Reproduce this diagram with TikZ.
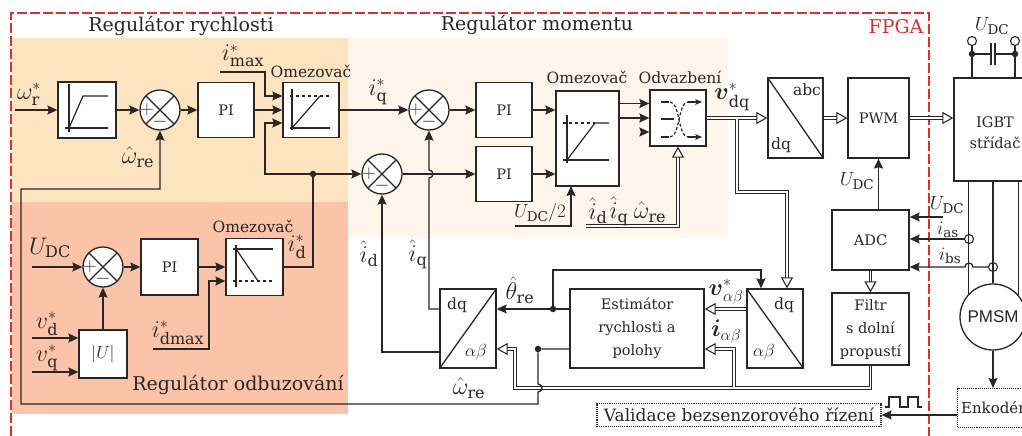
\documentclass[tikz,border=0pt]{standalone}
\usepackage{fix-cm}
\usepackage{amsmath}
\usepackage{fontspec}
\setmainfont{DejaVu Serif}
\newfontfamily\pmsmfont{Liberation Sans}
\DeclareMathSizes{24}{24}{16}{12}
\DeclareMathSizes{19}{19}{13.5}{10}
\DeclareMathSizes{17.5}{17.5}{13}{10}
\usetikzlibrary{arrows.meta,calc}
\definecolor{ink}{HTML}{2A2627}
\definecolor{fpgared}{HTML}{D8322A}
\definecolor{speedbg}{HTML}{FDE3C0}
\definecolor{torquebg}{HTML}{FEF6EA}
\definecolor{fluxbg}{HTML}{FBC4A9}
\tikzset{
    block/.style 2 args={rectangle, draw, fill=white, line width=1.3pt, inner sep=0pt, minimum width=#1pt, minimum height=#2pt, align=center, font=\fontsize{14.5}{23}\selectfont},
    sumnode/.style={circle, draw, fill=white, line width=1.3pt, inner sep=0pt, minimum size=40pt, path picture={\draw[line width=1.3pt] (path picture bounding box.north west) -- (path picture bounding box.south east) (path picture bounding box.north east) -- (path picture bounding box.south west);}},
    sign/.style={inner sep=0pt, font=\fontsize{19}{20}\selectfont},
    dotnode/.style={circle, fill=ink, inner sep=0pt, minimum size=6.5pt},
    ring/.style={circle, draw, line width=1.1pt, inner sep=0pt, minimum size=9pt},
    title/.style={inner sep=0pt, font=\fontsize{19}{24}\selectfont},
    smalltext/.style={inner sep=0pt, font=\fontsize{15.5}{20}\selectfont},
    mlabel/.style={inner sep=0pt, font=\fontsize{24}{26}\selectfont},
    slabel/.style={inner sep=0pt, font=\fontsize{19}{22}\selectfont},
    alabel/.style={inner sep=0pt, font=\fontsize{17.5}{20}\selectfont},
    dotbox/.style={rectangle, draw, densely dotted, line width=1.1pt, fill=white, font=\fontsize{15}{20}\selectfont},
    conn/.style={line width=1.3pt},
    arr/.style={line width=1.3pt, -{Stealth[length=10pt,width=9pt,inset=1.5pt]}},
    dbl/.style={line width=0.9pt, double, double distance=1.6pt},
    dblarr/.style={dbl, -{Triangle[open,fill=white,length=11pt,width=12pt,line width=1.1pt]}},
    icon/.style={line width=1.2pt},
    iconarr/.style={line width=1.2pt, -{Stealth[length=7pt,width=6pt]}},
}
\begin{document}
\begin{tikzpicture}[x=1pt,y=-1pt,color=ink]
    \useasboundingbox (0,0) rectangle (1022,436);
    \fill[speedbg] (12,38) rectangle (348,202);
    \fill[torquebg] (348,38) rectangle (728,238);
    \fill[fluxbg] (12,202) rectangle (348,414);
    \draw[fpgared, line width=1.6pt, dash pattern=on 10pt off 3pt] (11,436) -- (11,13) -- (929,13) -- (929,436);

    \node(titlespeed)[title] at (181,26) {Regulátor rychlosti};
    \node(titletorque)[title] at (537,25) {Regulátor momentu};
    \node(titleflux)[title] at (238,385) {Regulátor odbuzování};
    \node(titlefpga)[title, text=fpgared] at (896,27) {FPGA};

    \node(ramp)[block={58}{56}] at (87,110) {};
    \node(sum1)[sumnode] at (160,110) {};
    \node(sum1p)[sign, xshift=-13pt] at (sum1) {$+$};
    \node(sum1m)[sign, yshift=-12pt] at (sum1) {$-$};
    \node(pi1)[block={56}{55}] at (226,110) {PI};
    \node(lim1)[block={56}{55}] at (311,110) {};
    \node(sum2)[sumnode] at (429,110) {};
    \node(sum2p)[sign, xshift=-13pt] at (sum2) {$+$};
    \node(sum2m)[sign, yshift=-12pt] at (sum2) {$-$};
    \node(sum3)[sumnode] at (382,174) {};
    \node(sum3p)[sign, xshift=-13pt] at (sum3) {$+$};
    \node(sum3m)[sign, yshift=-12pt] at (sum3) {$-$};
    \node(pi2)[block={56}{55}] at (504,110) {PI};
    \node(pi3)[block={56}{55}] at (504,174) {PI};
    \node(lim2)[block={63}{95}] at (587.5,138.5) {};
    \node(dec)[block={56}{56}] at (678,118) {};
    \node(dqabc)[block={55}{80}] at (795.5,118) {};
    \node(pwm)[block={61}{80}] at (878.5,118) {PWM};
    \node(igbt)[block={82}{103}] at (995,129.5) {};
    \node(igbttext)[inner sep=0pt, align=center, font=\fontsize{14.5}{21}\selectfont] at (995,133) {IGBT\\střídač};

    \node(sum4)[sumnode] at (103,267) {};
    \node(sum4p)[sign, xshift=-13pt] at (sum4) {$+$};
    \node(sum4m)[sign, yshift=-12pt] at (sum4) {$-$};
    \node(pi4)[block={57}{56}] at (169.5,267) {PI};
    \node(lim3)[block={57}{57}] at (254.5,267) {};
    \node(absu)[block={48}{48}, font=\fontsize{17.5}{20}\selectfont] at (103,354) {$|U|$};

    \node(dql)[block={56}{79}] at (468,328.5) {};
    \node(est)[block={134}{79}] at (637,328.5) {Estimátor\\rychlosti a\\polohy};
    \node(dqr)[block={56}{79}] at (775,328.5) {};
    \node(adc)[block={77}{60}] at (870.5,240) {ADC};
    \node(filtr)[block={77}{72}] at (870.5,329) {Filtr\\s dolní\\propustí};
    \node(pmsm)[circle, draw, fill=white, line width=1.3pt, inner sep=0pt, minimum size=66pt, font=\pmsmfont\fontsize{17}{20}\selectfont] at (993,317) {PMSM};
    \node(enk)[dotbox, anchor=west, minimum height=39pt, text width=88pt, inner sep=3.5pt] at (957,408) {Enkodér};
    \node(val)[dotbox, minimum width=284pt, minimum height=23pt, inner sep=0pt, font=\fontsize{17}{22}\selectfont] at (739,415) {Validace bezsenzorového řízení};

    \node(iddot)[dotnode] at (313,174) {};
    \node(thdot)[dotnode] at (553,309) {};
    \node(omdot)[dotnode] at (538,349) {};
    \node(capa)[dotnode] at (972,54) {};
    \node(capb)[dotnode] at (1015,54) {};
    \node(termla)[ring] at (972,41) {};
    \node(termb)[ring] at (1015,41) {};
    \node(senseas)[ring] at (969,239) {};
    \node(sensebs)[ring] at (993,267) {};

    \coordinate(winp) at (15,110);
    \coordinate(imaxin) at (220,72);
    \coordinate(imaxto) at (265,96);
    \coordinate(idto) at (265,123);
    \coordinate(udc2in) at (515,226);
    \coordinate(udc2to) at (571,186);
    \coordinate(decin) at (586,226);
    \coordinate(stub) at (641,132);
    \coordinate(upper) at (619,103.5);
    \coordinate(lower) at (619,118);
    \coordinate(branch) at (737,119);
    \coordinate(branchb) at (787,192);
    \coordinate(idin) at (440,352);
    \coordinate(thtop) at (761,270);
    \coordinate(fbl) at (515,388);
    \coordinate(fbr) at (734,387);
    \coordinate(udcl) at (32,267);
    \coordinate(vdin) at (32,338);
    \coordinate(vqin) at (32,372);
    \coordinate(idmaxin) at (153,349);
    \coordinate(idmaxto) at (209,281);
    \coordinate(udcad) at (943,217);

    \draw[arr] (winp) -- (ramp.west);
    \draw[arr] (ramp.east) -- (sum1.west);
    \draw[arr] (sum1.east) -- (pi1.west);
    \draw[arr] (pi1.east) -- (lim1.west);
    \draw[arr] (imaxin) -| (imaxto) -- (imaxto -| lim1.west);
    \draw[arr] (iddot) -| (idto) -- (idto -| lim1.west);
    \draw[arr] (iddot) -- (sum3.west);
    \draw[arr] (lim1.east) -- (sum2.west);
    \draw[arr] (sum2.east) -- (pi2.west);
    \draw[arr] (sum3.east) -- (pi3.west);
    \draw[arr] (pi2.east) -- (pi2.east -| lim2.west);
    \draw[arr] (pi3.east) -- (pi3.east -| lim2.west);
    \draw[arr] (upper) -- (upper -| dec.west);
    \draw[arr] (lower) -- (lower -| dec.west);
    \draw[arr] (stub) -- (stub -| dec.west);
    \draw[arr] (udc2in) -| (udc2to);
    \draw[dblarr] (decin) -| (dec.south);
    \draw[dblarr] (dec.east) -- (dqabc.west);
    \draw[dblarr] (branch) |- (branchb) -- (branchb |- dqr.north);
    \draw[dblarr] (dqabc.east) -- (pwm.west);
    \draw[dblarr] (pwm.east) -- (pwm.east -| igbt.west);
    \draw[arr] (adc.north -| pwm.south) -- (pwm.south);
    \draw[dblarr] (adc.south) -- (filtr.north);
    \draw[arr] (udcad) -- (udcad -| adc.east);
    \draw[arr] (senseas) -- (senseas -| adc.east);
    \draw[arr] (sensebs) -- (973,267) arc[start angle=0, end angle=-180, radius=4] -- (sensebs -| adc.east);

    \draw[conn] (termla) -- (capa) -- (capa |- igbt.north);
    \draw[conn] (termb) -- (capb) -- (capb |- igbt.north);
    \draw[conn] (capa) -- (991,54) (995,54) -- (capb);
    \draw[conn] (991,43) -- (991,65) (995,43) -- (995,65);
    \draw[conn] (igbt.south -| pmsm.137) -- (pmsm.137);
    \draw[conn] (igbt.south -| pmsm.north) -- (pmsm.north);
    \draw[conn] (igbt.south -| pmsm.41) -- (pmsm.41);
    \draw[arr] (pmsm.south) -- (pmsm.south |- enk.north);
    \draw[arr] (val.east -| enk.west) -- (val.east);

    \draw[arr] (udcl) -- (sum4.west);
    \draw[arr] (sum4.east) -- (pi4.west);
    \draw[arr] (pi4.east) -- (lim3.west);
    \draw[arr] (vdin) -- (vdin -| absu.west);
    \draw[arr] (vqin) -- (vqin -| absu.west);
    \draw[arr] (absu.north) -- (sum4.south);
    \draw[arr] (idmaxin) -| (idmaxto) -- (idmaxto -| lim3.west);
    \draw[conn] (lim3.east) -| (iddot);

    \draw[arr] (est.west |- thdot) -- (thdot -| dql.east);
    \draw[arr] (thdot) |- (thtop) -- (thtop |- dqr.north);
    \draw[arr] (dql.west |- thdot) -| (429,178) arc[start angle=90, end angle=-90, radius=4] -- (sum2.south);
    \draw[arr] (idin) -| (sum3.south);
    \draw[dblarr] (filtr.south) |- (fbl) |- (omdot -| dql.east);
    \draw[dblarr] (fbr) |- (omdot -| est.east);
    \draw[arr] (est.west |- omdot) -- (omdot) -- (538,384) arc[start angle=-90, end angle=90, radius=4] -- (538,404) -- (21,404) -- (21,189) -| (sum1.south);
    \draw[dblarr] (dqr.west |- thdot) -- (thdot -| est.east);

    \draw[icon] (69,84) -- (69,132) (65,128) -- (108,128);
    \draw[icon] (69,128) -- (83,96) -- (108,96);
    \draw[icon] (292,89) -- (292,130) (290,128) -- (330,128);
    \draw[icon, dashed] (290,96) -- (330,96);
    \draw[icon] (292,128) -- (320,96);
    \draw[icon] (567,115) -- (567,163) (563,160) -- (609,160);
    \draw[icon, dashed] (563,123) -- (595,123);
    \draw[icon] (567,160) -- (595,123) -- (609,123);
    \draw[icon] (236,245) -- (236,287) (233,249) -- (273,249);
    \draw[icon, dashed] (233,281) -- (273,281);
    \draw[icon] (236,249) -- (258,281);
    \draw[icon] (661,102) -- (669,102) (661,119) -- (674,119) (661,137) -- (669,137);
    \draw[icon, densely dashed] (670,102) .. controls (680,102) and (678,137) .. (688,137);
    \draw[icon, densely dashed] (670,137) .. controls (680,137) and (678,102) .. (688,102);
    \draw[iconarr] (688,102) -- (702,102);
    \draw[iconarr] (688,137) -- (702,137);
    \draw[line width=1.3pt] (dqabc.north west) -- (dqabc.south east);
    \draw[line width=1.3pt] (dqr.north west) -- (dqr.south east);
    \draw[line width=1.3pt] (dql.south west) -- (dql.north east);
    \draw[line width=1.1pt] (885,407) -- (889,407) -- (889,397) -- (900,397) -- (900,407) -- (908,407) -- (908,397) -- (918,397) -- (918,407) -- (922,407);

    \node(lim1name)[smalltext] at (311,71) {Omezovač};
    \node(lim2name)[smalltext] at (587,77) {Omezovač};
    \node(decname)[smalltext] at (680,77) {Odvazbení};
    \node(lim3name)[smalltext] at (253,226) {Omezovač};
    \node(abcname)[smalltext] at (807,90) {abc};
    \node(dqname)[smalltext] at (781,145) {dq};
    \node(dqlname)[smalltext] at (457,305) {dq};
    \node(dqrname)[smalltext] at (784,305) {dq};
    \node(ablname)[alabel] at (476,352) {$\alpha\beta$};
    \node(abrname)[alabel] at (764,352) {$\alpha\beta$};

    \node(wref)[mlabel] at (29,94) {$\omega_{\mathrm{r}}^{*}$};
    \node(imax)[mlabel] at (243,56) {$i_{\mathrm{max}}^{*}$};
    \node(wre1)[mlabel] at (138,157) {$\hat{\omega}_{\mathrm{re}}$};
    \node(iqref)[mlabel] at (378,92) {$i_{\mathrm{q}}^{*}$};
    \node(udc2)[slabel] at (540,213) {$U_{\mathrm{DC}}/2$};
    \node(idhat1)[mlabel] at (598,211) {$\hat{i}_{\mathrm{d}}$};
    \node(iqhat1)[mlabel] at (619,211) {$\hat{i}_{\mathrm{q}}$};
    \node(wre2)[mlabel] at (650,212) {$\hat{\omega}_{\mathrm{re}}$};
    \node(vdq)[mlabel] at (732,97) {$\boldsymbol{v}_{\mathrm{dq}}^{*}$};
    \node(udctop)[slabel] at (992,26) {$U_{\mathrm{DC}}$};
    \node(udcpwm)[slabel] at (857,181) {$U_{\mathrm{DC}}$};
    \node(udcadc)[slabel] at (947,205) {$U_{\mathrm{DC}}$};
    \node(ias)[slabel] at (948,230) {$i_{\mathrm{as}}$};
    \node(ibs)[slabel] at (950,256) {$i_{\mathrm{bs}}$};
    \node(udcflux)[mlabel] at (50,248) {$U_{\mathrm{DC}}$};
    \node(vdref)[mlabel] at (47,324) {$v_{\mathrm{d}}^{*}$};
    \node(vqref)[mlabel] at (47,358) {$v_{\mathrm{q}}^{*}$};
    \node(idmax)[mlabel] at (178,333) {$i_{\mathrm{dmax}}^{*}$};
    \node(idref)[mlabel] at (297,247) {$i_{\mathrm{d}}^{*}$};
    \node(idhat2)[mlabel] at (369,254) {$\hat{i}_{\mathrm{d}}$};
    \node(iqhat2)[mlabel] at (418,254) {$\hat{i}_{\mathrm{q}}$};
    \node(threh)[mlabel] at (520,290) {$\hat{\theta}_{\mathrm{re}}$};
    \node(wre3)[mlabel] at (469,388) {$\hat{\omega}_{\mathrm{re}}$};
    \node(vab)[mlabel] at (726,292) {$\boldsymbol{v}_{\alpha\beta}^{*}$};
    \node(iab)[mlabel] at (726,332) {$\boldsymbol{i}_{\alpha\beta}$};
\end{tikzpicture}
\end{document}
